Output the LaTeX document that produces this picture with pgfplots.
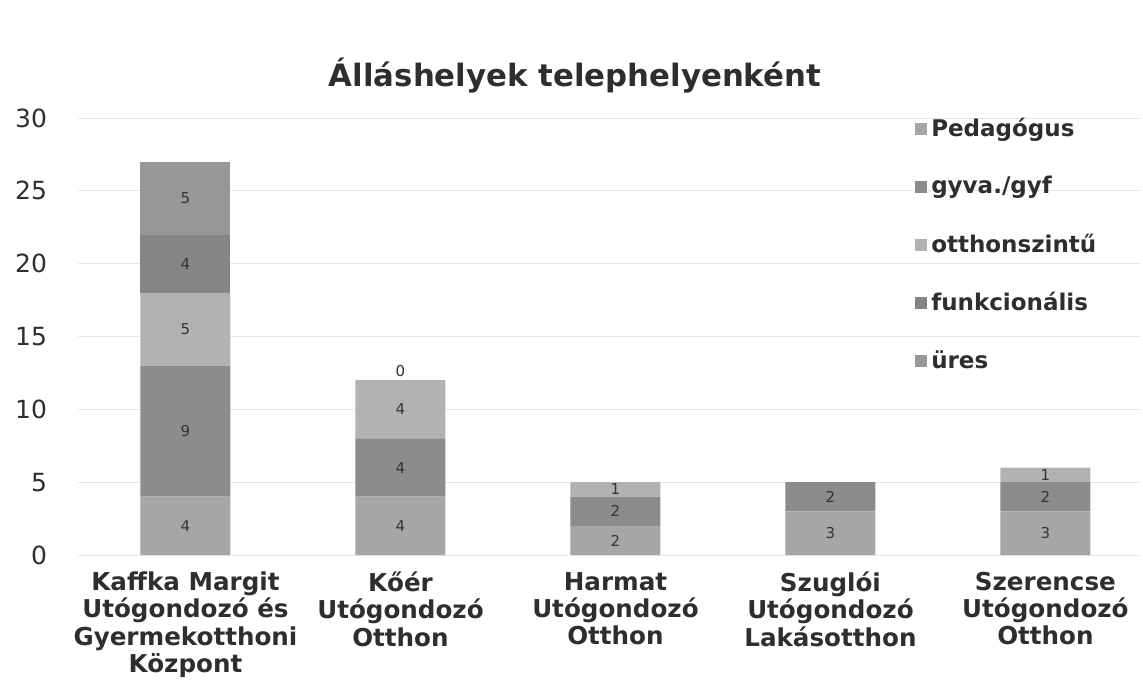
\documentclass[border=0pt]{standalone}
\usepackage{fontspec}
\setmainfont{DejaVu Sans}
\usepackage{pgfplots}
\pgfplotsset{compat=1.18}
\definecolor{cped}{HTML}{A6A6A6}
\definecolor{cgyv}{HTML}{8C8C8C}
\definecolor{cott}{HTML}{B2B2B2}
\definecolor{cfun}{HTML}{858585}
\definecolor{cure}{HTML}{979797}
\definecolor{txt}{HTML}{2E2E2E}
\begin{document}
\begin{tikzpicture}
\path[use as bounding box] (0,0) rectangle (571.5pt,346pt);
\begin{axis}[
  at={(39pt,68.5pt)}, anchor=south west,
  scale only axis, width=531pt, height=218.5pt,
  ybar stacked, bar width=45pt,
  xmin=-0.5, xmax=4.44, ymin=0, ymax=30,
  ytick={0,5,...,30},
  xtick={0,1,2,3,4},
  xticklabels={{Kaffka Margit\\Utógondozó és\\Gyermekotthoni\\Központ},{Kőér\\Utógondozó\\Otthon},{Harmat\\Utógondozó\\Otthon},{Szuglói\\Utógondozó\\Lakásotthon},{Szerencse\\Utógondozó\\Otthon}},
  xticklabel style={align=center, font=\fontsize{12.3}{13.6}\selectfont\bfseries, text=txt, anchor=north, yshift=-5pt},
  yticklabel style={font=\fontsize{12.5}{14}\selectfont, text=txt, anchor=east, xshift=-12pt},
  /pgf/number format/assume math mode=true,
  major tick length=0pt,
  axis line style={draw=none},
  ymajorgrids, grid style={gray!18},
  title={\textbf{Álláshelyek telephelyenként}},
  title style={at={(0.468,1)}, anchor=center, yshift=15pt, font=\fontsize{15.4}{17}\selectfont, text=txt},
  legend style={at={(0.788,1.01)}, anchor=north west, draw=none, fill=none,
    font=\fontsize{11.5}{13}\selectfont\bfseries, text=txt, row sep=14.5pt, inner sep=0pt},
  legend cell align=left,
  legend image code/.code={\fill[#1] (0pt,-3pt) rectangle (6pt,3pt);},
]
\addplot[fill=cped, draw=none] coordinates {(0,4) (1,4) (2,2) (3,3) (4,3)};
\addplot[fill=cgyv, draw=none] coordinates {(0,9) (1,4) (2,2) (3,2) (4,2)};
\addplot[fill=cott, draw=none] coordinates {(0,5) (1,4) (2,1) (3,0) (4,1)};
\addplot[fill=cfun, draw=none] coordinates {(0,4) (1,0) (2,0) (3,0) (4,0)};
\addplot[fill=cure, draw=none] coordinates {(0,5) (1,0) (2,0) (3,0) (4,0)};
\legend{Pedagógus, gyva./gyf, otthonszintű, funkcionális, üres}
\end{axis}
\begin{axis}[
  at={(39pt,68.5pt)}, anchor=south west,
  scale only axis, width=531pt, height=218.5pt,
  xmin=-0.5, xmax=4.44, ymin=0, ymax=30, hide axis,
]
\addplot[only marks, mark=none, nodes near coords, point meta=explicit symbolic,
  every node near coord/.style={anchor=center, font=\fontsize{7.5}{8}\selectfont, text=gray!40!black}]
  coordinates {
  (0,2) [4] (0,8.5) [9] (0,15.5) [5] (0,20) [4] (0,24.5) [5]
  (1,2) [4] (1,6) [4] (1,10) [4] (1,12.6) [0]
  (2,1) [2] (2,3) [2] (2,4.5) [1]
  (3,1.5) [3] (3,4) [2]
  (4,1.5) [3] (4,4) [2] (4,5.5) [1]
  };
\end{axis}
\end{tikzpicture}
\end{document}
